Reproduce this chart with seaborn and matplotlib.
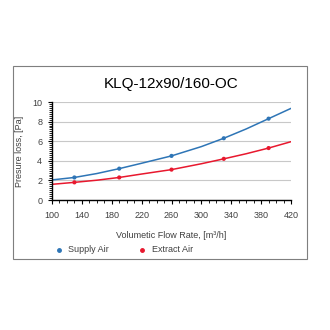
import matplotlib
matplotlib.use("Agg")
import matplotlib.pyplot as plt
import seaborn as sns
import pandas as pd
from matplotlib.ticker import MultipleLocator, FixedLocator
from matplotlib.patches import Rectangle

title = "KLQ-12x90/160-OC"
x_ticks = [100, 140, 180, 220, 260, 300, 340, 380, 420]
flow_line = [100, 130, 160, 190, 220, 260, 300, 330, 360, 390, 420]
supply_line = [2.05, 2.3, 2.7, 3.2, 3.75, 4.5, 5.45, 6.3, 7.25, 8.3, 9.35]
extract_line = [1.6, 1.8, 2.02, 2.3, 2.65, 3.1, 3.7, 4.2, 4.72, 5.3, 5.95]
flow_pts = [130, 190, 260, 330, 390]
supply_pts = [2.3, 3.2, 4.5, 6.3, 8.3]
extract_pts = [1.8, 2.3, 3.1, 4.2, 5.3]

blue = "#2E75B6"
red = "#E8182E"

sns.set_theme(style="white")
plt.rcParams['font.family'] = ['Liberation Sans', 'DejaVu Sans']

fig = plt.figure(figsize=(3.3, 3.3), dpi=100)
fig.patches.append(Rectangle((13/330, 1-259/330), 294/330, 193/330,
                             transform=fig.transFigure, fill=False,
                             edgecolor="#7f7f7f", linewidth=0.8))
ax = fig.add_axes([52/330, 1-200/330, 239/330, 98/330])

lines = pd.DataFrame({"x": flow_line * 2,
                      "y": supply_line + extract_line,
                      "s": ["Supply Air"] * len(flow_line) + ["Extract Air"] * len(flow_line)})
pts = pd.DataFrame({"x": flow_pts * 2,
                    "y": supply_pts + extract_pts,
                    "s": ["Supply Air"] * len(flow_pts) + ["Extract Air"] * len(flow_pts)})
pal = {"Supply Air": blue, "Extract Air": red}
sns.lineplot(data=lines, x="x", y="y", hue="s", palette=pal, ax=ax,
             linewidth=1.1, legend=False, sort=True)
sns.scatterplot(data=pts, x="x", y="y", hue="s", palette=pal, ax=ax,
                s=9, edgecolor="none", legend=False, zorder=3)

ax.set_xlim(100, 420)
ax.set_ylim(0, 10)
ax.xaxis.set_major_locator(FixedLocator(x_ticks))
ax.xaxis.set_minor_locator(MultipleLocator(10))
ax.yaxis.set_major_locator(MultipleLocator(2))
ax.yaxis.set_minor_locator(MultipleLocator(0.2))
ax.grid(axis="y", which="major", color="#c8c8c8", linewidth=0.8)
ax.set_axisbelow(True)
for side in ["top", "right"]:
    ax.spines[side].set_visible(False)
for side in ["left", "bottom"]:
    ax.spines[side].set_color("black")
    ax.spines[side].set_linewidth(1.0)
ax.tick_params(axis="both", which="major", direction="out", length=3, width=0.8,
               labelsize=6.5, colors="black", labelcolor="#404040",
               bottom=True, left=True)
ax.tick_params(axis="both", which="minor", direction="out", length=2, width=0.6,
               colors="black", bottom=True, left=True)
ax.tick_params(axis="x", which="major", pad=5)
ax.tick_params(axis="y", which="major", pad=4)
ax.set_xlabel("Volumetic Flow Rate, [m³/h]", fontsize=6.5, color="#404040", labelpad=8)
ax.set_ylabel("Presure loss, [Pa]", fontsize=6.5, color="#404040", labelpad=6)

fig.text(0.52, 1-84/330, title, ha="center", va="center", fontsize=11, color="black")

# legend
fig.lines.append(plt.Line2D([59/330], [1-250/330], marker="o", markersize=2.5,
                            color=blue, transform=fig.transFigure, linestyle="none"))
fig.text(68/330, 1-250/330, "Supply Air", fontsize=6.5, va="center", color="#404040")
fig.lines.append(plt.Line2D([142/330], [1-250/330], marker="o", markersize=2.5,
                            color=red, transform=fig.transFigure, linestyle="none"))
fig.text(152/330, 1-250/330, "Extract Air", fontsize=6.5, va="center", color="#404040")

fig.savefig("out.png", dpi=100, facecolor="white")
